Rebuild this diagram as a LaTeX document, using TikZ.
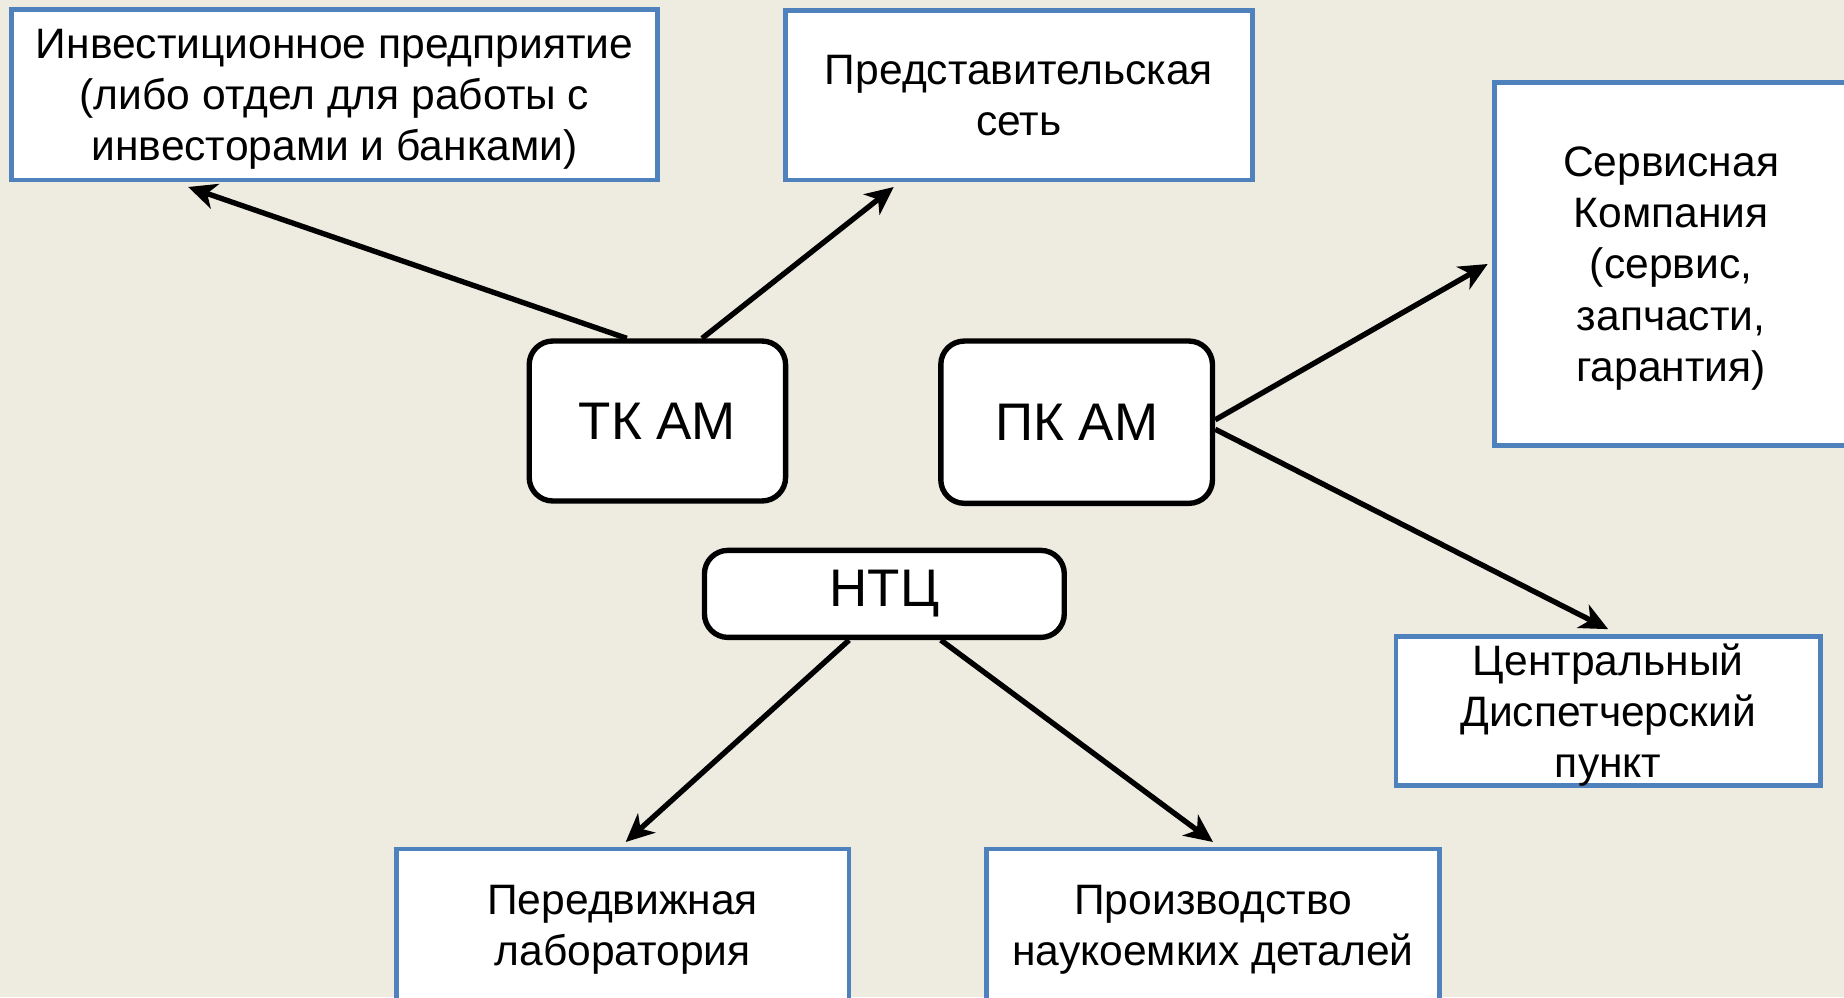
\documentclass[tikz,border=0pt]{standalone}
\usepackage{fontspec}
\setmainfont{Liberation Sans}
\usetikzlibrary{positioning, calc, arrows.meta}

\definecolor{bgtan}{HTML}{EEECE1}
\definecolor{boxblue}{HTML}{4F81BD}

\tikzset{
    bluebox/.style={draw=boxblue, line width=1.1pt, fill=white, align=center,
        inner sep=0pt, outer sep=0.6mm, text depth=0pt, font=\fontsize{10.3}{12.4}\selectfont},
    roundbox/.style={draw=black, line width=1.3pt, fill=white, rounded corners=2mm,
        inner sep=0pt, font=\fontsize{12.8}{15}\selectfont},
    arr/.style={-{Stealth[length=2.4mm, width=2.2mm, inset=0.7mm]}, line width=1.3pt}
}

\begin{document}
\begin{tikzpicture}[x=0.1mm, y=-0.1mm]
    % фон
    \fill[bgtan] (0,0) rectangle (1568,848);
    \useasboundingbox (0,0) rectangle (1568,848);

    % подразделения
    \node[bluebox, minimum width=54.9mm, minimum height=14.5mm] (invest) at (284.5,80.5)
        {Инвестиционное предприятие\\(либо отдел для работы с\\инвесторами и банками)};
    \node[bluebox, minimum width=39.7mm, minimum height=14.4mm] (predst) at (866.5,81)
        {Представительская\\сеть};
    \node[bluebox, minimum width=30mm, minimum height=30.9mm] (servis) at (1421,224.5)
        {Сервисная\\Компания\\(сервис,\\запчасти,\\гарантия)};
    \node[bluebox, minimum width=36.1mm, minimum height=12.7mm] (dispetch) at (1367.5,604.5)
        {Центральный\\Диспетчерский\\пункт};
    \node[bluebox, minimum width=38.5mm, minimum height=13mm] (labor) at (529.5,787)
        {Передвижная\\лаборатория};
    \node[bluebox, minimum width=38.5mm, minimum height=13mm] (proizv) at (1031.5,787)
        {Производство\\наукоемких деталей};

    % центры
    \node[roundbox, minimum width=21.8mm, minimum height=13.6mm] (tkam) at (559,358) {ТК АМ};
    \node[roundbox, minimum width=23.1mm, minimum height=13.8mm] (pkam) at (915.5,359) {ПК АМ};
    \node[roundbox, minimum width=30.6mm, minimum height=7.4mm] (ntc) at (752,505) {НТЦ};

    % стрелки
    \draw[arr] ([xshift=-2.6mm]tkam.north) -- ([xshift=-12.45mm]invest.south);
    \draw[arr] ([xshift=3.8mm]tkam.north) -- ([xshift=-10.65mm]predst.south);
    \draw[arr] ([yshift=0.2mm]pkam.east) -- (servis.west);
    \draw[arr] ([yshift=-0.6mm]pkam.east) -- (dispetch.north);
    \draw[arr] ([xshift=-3mm]ntc.south) -- ([xshift=0.25mm]labor.north);
    \draw[arr] ([xshift=4.8mm]ntc.south) -- (proizv.north);
\end{tikzpicture}
\end{document}
